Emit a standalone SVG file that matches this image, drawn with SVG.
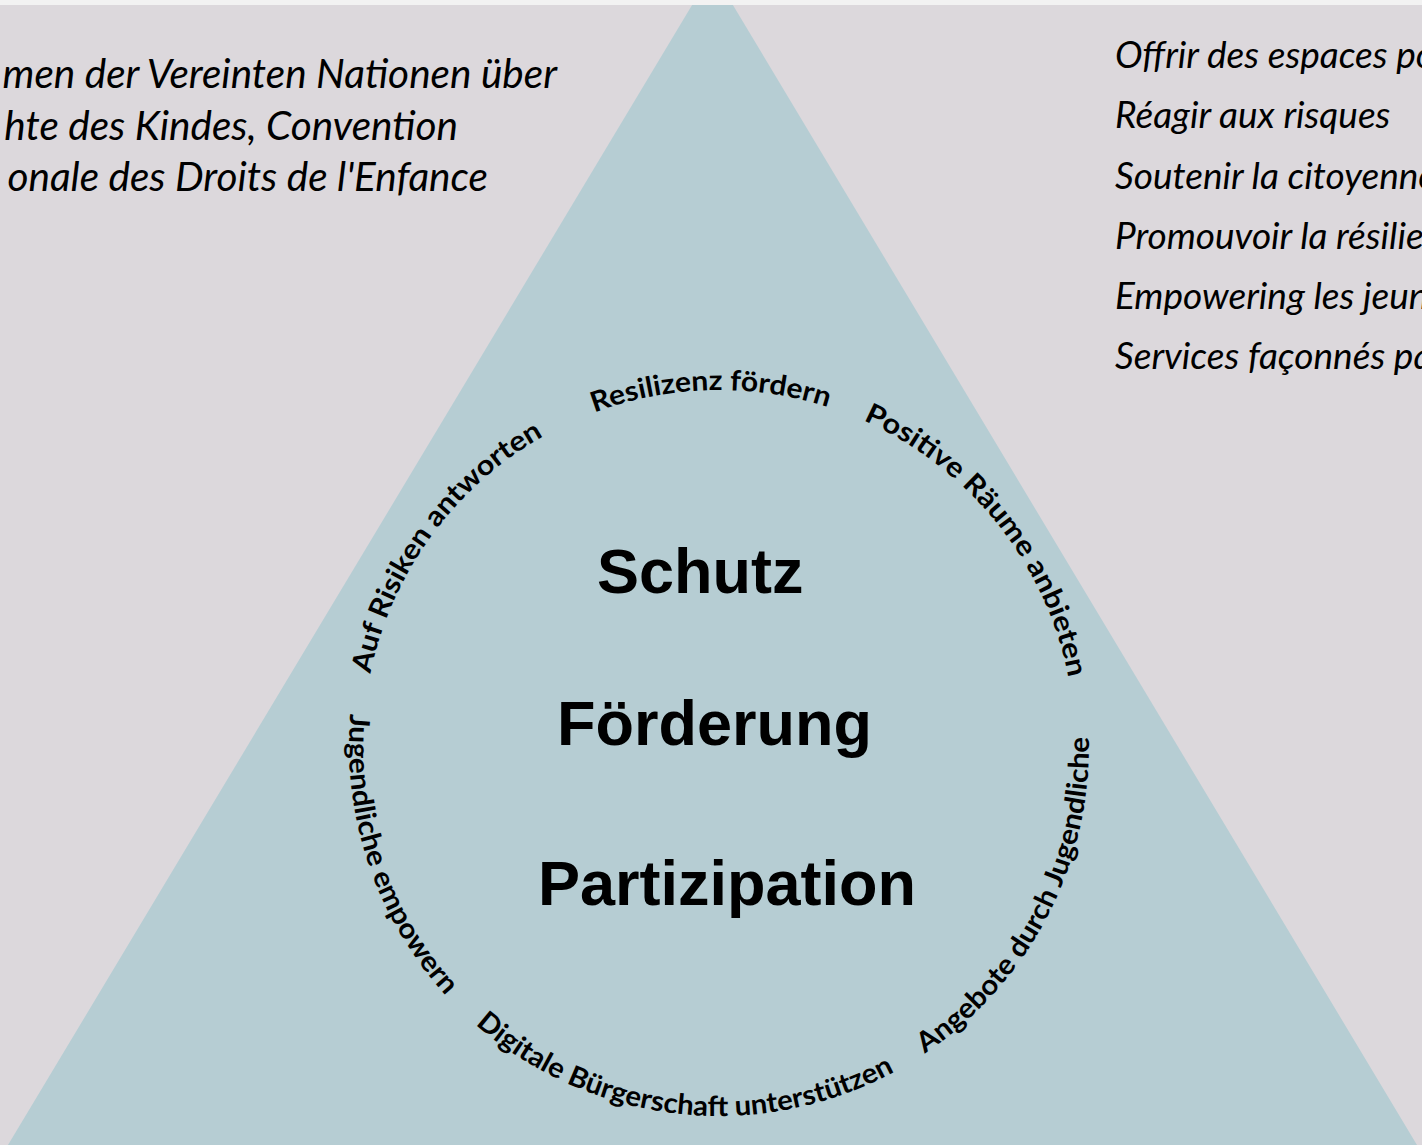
<svg xmlns="http://www.w3.org/2000/svg" xmlns:xlink="http://www.w3.org/1999/xlink" width="1422" height="1145" viewBox="0 0 1422 1145">
  <style>
    .side { font-family: Lato, "Open Sans", sans-serif; font-style: italic; fill: #000; }
    .left { font-size: 40.5px; }
    .right { font-size: 37px; }
    .arc { font-family: Lato, "Open Sans", sans-serif; font-weight: bold; font-size: 28px; fill: #000; }
    .big { font-family: "Liberation Sans", Arial, sans-serif; font-weight: bold; font-size: 63px; fill: #000; }
  </style>
  <defs>
    <path id="p-auf" d="M 370.4 673.8 A 356 356 0 0 1 543.7 436.1"/>
    <path id="p-res" d="M 594.3 412.5 A 356 356 0 0 1 827.8 407.1"/>
    <path id="p-pos" d="M 863.2 420.5 A 356 356 0 0 1 1068.5 678.1"/>
    <path id="p-jug" d="M 350.4 713.7 A 370 370 0 0 0 445.8 995.5"/>
    <path id="p-dig" d="M 475.3 1024.4 A 370 370 0 0 0 894.4 1071.8"/>
    <path id="p-ang" d="M 924.8 1053.5 A 370 370 0 0 0 1088.9 737.0"/>
  </defs>

  <g id="background">
    <rect x="0" y="0" width="1422" height="1145" fill="#DCD8DC"/>
    <polygon points="712.5,-29 8,1145 1417,1145" fill="#B6CDD3"/>
    <rect x="0" y="0" width="1422" height="5" fill="#F2F2F2"/>
  </g>

  <g id="left-note" class="side left">
    <text x="557" y="88" text-anchor="end">men der Vereinten Nationen über</text>
    <text x="458" y="140" text-anchor="end">hte des Kindes, Convention</text>
    <text x="488" y="191" text-anchor="end">onale des Droits de l'Enfance</text>
  </g>

  <g id="right-note" class="side right">
    <text x="1115" y="68">Offrir des espaces po</text>
    <text x="1115" y="128">Réagir aux risques</text>
    <text x="1115" y="189">Soutenir la citoyenne</text>
    <text x="1115" y="249">Promouvoir la résilie</text>
    <text x="1115" y="309">Empowering les jeun</text>
    <text x="1115" y="369">Services façonnés pa</text>
  </g>

  <g id="core">
    <text class="big" x="597" y="593">Schutz</text>
    <text class="big" x="557" y="745">Förderung</text>
    <text class="big" x="538" y="905">Partizipation</text>
  </g>

  <g id="label-auf"><text class="arc"><textPath href="#p-auf" textLength="303" lengthAdjust="spacingAndGlyphs">Auf Risiken antworten</textPath></text></g>
  <g id="label-res"><text class="arc"><textPath href="#p-res" textLength="238" lengthAdjust="spacingAndGlyphs">Resilizenz fördern</textPath></text></g>
  <g id="label-pos"><text class="arc"><textPath href="#p-pos" textLength="342" lengthAdjust="spacingAndGlyphs">Positive Räume anbieten</textPath></text></g>
  <g id="label-jug"><text class="arc"><textPath href="#p-jug" textLength="306" lengthAdjust="spacingAndGlyphs">Jugendliche empowern</textPath></text></g>
  <g id="label-dig"><text class="arc"><textPath href="#p-dig" textLength="449" lengthAdjust="spacingAndGlyphs">Digitale Bürgerschaft unterstützen</textPath></text></g>
  <g id="label-ang"><text class="arc"><textPath href="#p-ang" textLength="372" lengthAdjust="spacingAndGlyphs">Angebote durch Jugendliche</textPath></text></g>
</svg>
